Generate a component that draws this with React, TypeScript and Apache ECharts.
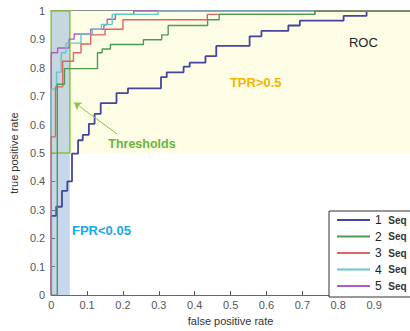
import React, { useEffect, useRef } from "react";
import * as echarts from "echarts";

const seriesNames = ["1 Seq", "2 Seq", "3 Seq", "4 Seq", "5 Seq"];
const seriesColors = ["#45459e", "#4e9a52", "#e06262", "#62c8c8", "#b05ac6"];

const seq1: [number, number][] = [
  [0, 0], [0, 0.279], [0.014, 0.311], [0.03, 0.367], [0.045, 0.4], [0.058, 0.498],
  [0.075, 0.545], [0.088, 0.564], [0.105, 0.603], [0.121, 0.638], [0.138, 0.676],
  [0.182, 0.711], [0.214, 0.728], [0.306, 0.767], [0.322, 0.784], [0.369, 0.804],
  [0.386, 0.818], [0.43, 0.841], [0.46, 0.877], [0.553, 0.911], [0.586, 0.93],
  [0.661, 0.949], [0.693, 0.966], [0.815, 0.983], [0.879, 1], [1, 1],
];
const seq2: [number, number][] = [
  [0, 0], [0.017, 0.742], [0.037, 0.797], [0.129, 0.853], [0.142, 0.866],
  [0.165, 0.882], [0.257, 0.899], [0.308, 0.916], [0.326, 0.949], [0.436, 0.969],
  [0.468, 0.988], [0.735, 1], [1, 1],
];
const seq3: [number, number][] = [
  [0, 0], [0, 0.557], [0.012, 0.733], [0.032, 0.823], [0.062, 0.853], [0.083, 0.884],
  [0.11, 0.916], [0.15, 0.936], [0.2, 0.969], [0.435, 0.988], [0.735, 1], [1, 1],
];
const seq4: [number, number][] = [
  [0, 0], [0, 0.725], [0.015, 0.785], [0.028, 0.853], [0.041, 0.887], [0.083, 0.919],
  [0.115, 0.936], [0.14, 0.953], [0.17, 0.988], [0.298, 1], [1, 1],
];
const seq5: [number, number][] = [
  [0, 0], [0, 0.853], [0.018, 0.87], [0.05, 0.901], [0.064, 0.919], [0.11, 0.936],
  [0.147, 0.951], [0.156, 0.971], [0.179, 0.988], [0.23, 1], [1, 1],
];
const seriesData = [seq1, seq2, seq3, seq4, seq5];

const FPR_LIMIT = 0.052;
const TPR_LIMIT = 0.5;

const annotations = [
  { text: "ROC", at: [0.87, 0.889], color: "#222", size: 13, weight: "normal" },
  { text: "TPR>0.5", at: [0.57, 0.749], color: "#f5b400", size: 13, weight: "bold" },
  { text: "Thresholds", at: [0.253, 0.533], color: "#6ab43a", size: 12.5, weight: "bold" },
  { text: "FPR<0.05", at: [0.14, 0.226], color: "#18a8ea", size: 13, weight: "bold" },
];
const arrowFrom = [0.183, 0.568];
const arrowTo = [0.064, 0.678];

const fmt = (v: number) => (v === 0 ? "0" : v === 1 ? "1" : v.toFixed(1));

export default function App() {
  const ref = useRef<HTMLDivElement>(null);
  useEffect(() => {
    if (!ref.current) return;
    const chart = echarts.init(ref.current, null, { renderer: "svg" });
    const axisCommon = {
      type: "value" as const,
      min: 0,
      max: 1,
      interval: 0.1,
      splitLine: { show: false },
      axisLine: { show: true, lineStyle: { color: "#777", width: 1 } },
      axisTick: { show: true, inside: true, length: 4, lineStyle: { color: "#555" } },
    };
    chart.setOption({
      animation: false,
      backgroundColor: "#fff",
      grid: { left: 50, top: 11, width: 363, height: 287, containLabel: false },
      legend: {
        data: seriesNames,
        orient: "vertical",
        left: 329,
        top: 211,
        padding: [3, 8, 5, 8],
        itemGap: 4.5,
        itemWidth: 33,
        itemHeight: 2,
        icon: "rect",
        backgroundColor: "#fff",
        borderColor: "#333",
        borderWidth: 1,
        borderRadius: 0,
        formatter: (name: string) => `{n|${name.split(" ")[0]}}  {s|Seq}`,
        textStyle: {
          rich: {
            n: { fontSize: 12, color: "#222", fontFamily: "Liberation Sans", height: 14 },
            s: { fontSize: 10, color: "#333", fontWeight: "bold", fontFamily: "Liberation Sans", height: 14 },
          },
        },
      },
      xAxis: [
        {
          ...axisCommon,
          position: "bottom",
          name: "false positive rate",
          nameLocation: "middle",
          nameGap: 19,
          nameTextStyle: { color: "#333", fontSize: 11, fontFamily: "Liberation Sans" },
          axisLine: { show: true, lineStyle: { color: "#666", width: 1 } },
          axisLabel: {
            formatter: fmt,
            color: "#555",
            fontSize: 11,
            margin: 4,
            showMaxLabel: false,
            fontFamily: "Liberation Sans",
          },
        },
        {
          ...axisCommon,
          position: "top",
          axisLine: { show: true, lineStyle: { color: "#666", width: 1.5 } },
          axisLabel: { show: false },
        },
      ],
      yAxis: [
        {
          ...axisCommon,
          position: "left",
          name: "true positive rate",
          nameLocation: "middle",
          nameGap: 30,
          nameTextStyle: { color: "#333", fontSize: 11, fontFamily: "Liberation Sans" },
          axisLabel: { formatter: fmt, color: "#555", fontSize: 11, margin: 6, fontFamily: "Liberation Sans" },
        },
      ],
      series: [
        {
          type: "line",
          name: "bg",
          z: 1,
          silent: true,
          data: [[0, 0]],
          symbol: "none",
          lineStyle: { opacity: 0 },
          markArea: {
            silent: true,
            data: [
              [
                { xAxis: 0, yAxis: TPR_LIMIT, itemStyle: { color: "#fdfde6" } },
                { xAxis: 1, yAxis: 1 },
              ],
              [
                { xAxis: 0, yAxis: 0, itemStyle: { color: "rgba(130,168,215,0.45)" } },
                { xAxis: FPR_LIMIT, yAxis: 1 },
              ],
            ],
          },
        },
        ...seriesNames.map((name, i) => ({
          type: "line",
          name,
          data: seriesData[i],
          step: "end",
          symbol: "none",
          z: 3 + (i === 0 ? 0 : 5 - i),
          color: seriesColors[i],
          lineStyle: { color: seriesColors[i], width: i === 0 ? 1.8 : 1.4 },
        })),
        {
          type: "line",
          name: "overlay",
          z: 10,
          silent: true,
          data: [[0, 0]],
          symbol: "none",
          lineStyle: { opacity: 0 },
          markArea: {
            silent: true,
            data: [
              [
                {
                  xAxis: 0,
                  yAxis: TPR_LIMIT,
                  itemStyle: { color: "rgba(0,0,0,0)", borderColor: "#86c440", borderWidth: 1.5 },
                },
                { xAxis: FPR_LIMIT, yAxis: 1 },
              ],
            ],
          },
          markLine: {
            silent: true,
            symbol: ["none", "arrow"],
            symbolSize: 7,
            label: { show: false },
            lineStyle: { color: "#86c440", width: 1, type: "solid" },
            data: [[{ coord: arrowFrom }, { coord: arrowTo }]],
          },
          markPoint: {
            silent: true,
            symbol: "rect",
            symbolSize: 1,
            itemStyle: { color: "rgba(0,0,0,0)" },
            data: annotations.map((a) => ({
              coord: a.at,
              label: {
                show: true,
                position: "inside",
                formatter: a.text,
                color: a.color,
                fontSize: a.size,
                fontWeight: a.weight,
                fontFamily: "Liberation Sans",
              },
            })),
          },
        },
      ],
    });
    return () => chart.dispose();
  }, []);
  return (
    <div
      ref={ref}
      style={{ position: "fixed", left: 0, top: 0, width: 410, height: 331 }}
    />
  );
}
